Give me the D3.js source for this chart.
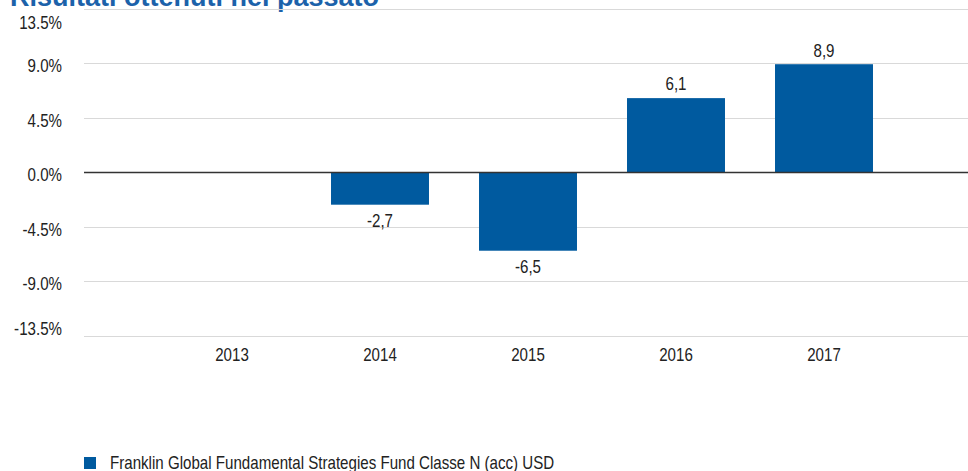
<!DOCTYPE html>
<html>
<head>
<meta charset="utf-8">
<script src="https://cdn.jsdelivr.net/npm/d3@7"></script>
<style>
	body { margin: 0; background: #fff; }
	svg { display: block; font-family: "Liberation Sans", Arial, sans-serif; }
</style>
</head>
<body>
<div id="chart"></div>
<script>
let years      = ['2013', '2014', '2015', '2016', '2017'];
let fund_vals  = [null, -2.7, -6.5, 6.1, 8.9];
let tick_vals  = [-13.5, -9.0, -4.5, 0.0, 4.5, 9.0, 13.5];
let series_name = 'Franklin Global Fundamental Strategies Fund Classe N (acc) USD';
let title_text  = 'Risultati ottenuti nel passato';

let full_width  = 968,
	full_height = 471,
	plot_left   = 84,
	plot_right  = 968,
	narrow      = 0.84;   // the reference uses a condensed face

let locale = d3.formatLocale({ decimal: '.', thousands: ',', grouping: [3], currency: ['', ''], minus: '-' });
let fmt_tick = locale.format('.1f');
let fmt_val  = function(v){ return locale.format('.1f')(v).replace('.', ','); };

let svg = d3.select('#chart')
	.append('svg')
	.attr('width', full_width)
	.attr('height', full_height);

let x = d3.scaleBand()
	.domain(years)
	.range([158, 898])
	.paddingInner(0.338)
	.paddingOuter(0.169);

let y = d3.scaleLinear()
	.domain([-13.5, 13.5])
	.range([335.5, 8.5]);

// condensed text: position by translate, squeeze horizontally
function place(sel, fx, fy){
	sel.attr('transform', function(d, i){
		return 'translate(' + fx(d, i) + ',' + fy(d, i) + ') scale(' + narrow + ',1)';
	});
}

// title, clipped at the top edge
svg.append('text')
	.attr('x', 10)
	.attr('y', 6)
	.attr('fill', '#1c62aa')
	.attr('font-weight', 'bold')
	.attr('font-size', 27)
	.text(title_text);

// grid lines
svg.append('g')
	.selectAll('line')
	.data(tick_vals.filter(function(d){ return d !== 0; }))
	.enter()
	.append('line')
	.attr('x1', plot_left)
	.attr('x2', plot_right)
	.attr('y1', function(d){ return Math.round(y(d)) + 0.5; })
	.attr('y2', function(d){ return Math.round(y(d)) + 0.5; })
	.attr('stroke', '#d9d9d9')
	.attr('stroke-width', 1);

// y labels
svg.append('g')
	.selectAll('text')
	.data(tick_vals)
	.enter()
	.append('text')
	.call(place, function(){ return 62; }, function(d){ return Math.min(Math.max(y(d) + 3, 23), 329); })
	.attr('dy', '0.35em')
	.attr('text-anchor', 'end')
	.attr('font-size', 18)
	.attr('fill', '#222')
	.text(function(d){ return fmt_tick(d) + '%'; });

// bars
let bars = years.map(function(d, i){ return { year: d, v: fund_vals[i] }; })
	.filter(function(d){ return d.v !== null; });

svg.append('g')
	.selectAll('rect')
	.data(bars)
	.enter()
	.append('rect')
	.attr('x', function(d){ return x(d.year); })
	.attr('width', x.bandwidth())
	.attr('y', function(d){ return y(Math.max(0, d.v)); })
	.attr('height', function(d){ return Math.abs(y(d.v) - y(0)); })
	.attr('fill', '#005a9f');

// value labels
svg.append('g')
	.selectAll('text')
	.data(bars)
	.enter()
	.append('text')
	.call(place,
		function(d){ return x(d.year) + x.bandwidth() / 2; },
		function(d){ return d.v >= 0 ? y(d.v) - 14 : y(d.v) + 16; })
	.attr('dy', '0.35em')
	.attr('text-anchor', 'middle')
	.attr('font-size', 18)
	.attr('fill', '#222')
	.text(function(d){ return fmt_val(d.v); });

// zero line
svg.append('line')
	.attr('x1', plot_left)
	.attr('x2', plot_right)
	.attr('y1', Math.round(y(0)) + 0.5)
	.attr('y2', Math.round(y(0)) + 0.5)
	.attr('stroke', '#333')
	.attr('stroke-width', 1.3);

// x labels
let xAxis = d3.axisBottom(x).tickSize(0).tickPadding(0);
let gx = svg.append('g')
	.attr('transform', 'translate(0,348)')
	.call(xAxis);
gx.select('.domain').remove();
gx.selectAll('text')
	.attr('font-size', 18)
	.attr('font-family', null)
	.attr('fill', '#222')
	.attr('transform', 'scale(' + narrow + ',1)');

// legend
svg.append('rect')
	.attr('x', 84)
	.attr('y', 457)
	.attr('width', 12)
	.attr('height', 12)
	.attr('fill', '#005a9f');

svg.append('text')
	.call(place, function(){ return 110; }, function(){ return 469; })
	.attr('font-size', 18)
	.attr('fill', '#222')
	.text(series_name);
</script>
</body>
</html>
